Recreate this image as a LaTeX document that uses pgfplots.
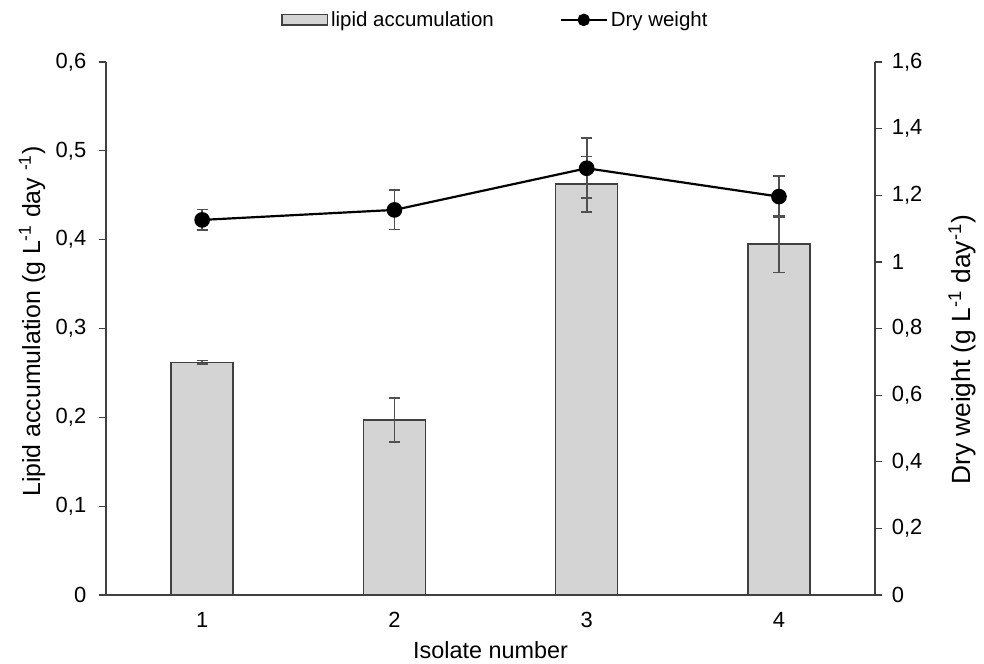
\documentclass[border=0pt]{standalone}
\usepackage{pgfplots}
\pgfplotsset{compat=1.18}
\usepackage{fontspec}
\setmainfont{Liberation Sans}
\definecolor{barfill}{HTML}{D4D4D4}
\definecolor{axgray}{HTML}{404040}
\definecolor{errgray}{HTML}{505050}
\pgfplotsset{
  barlegend/.style={legend image code/.code={\draw[##1] (0pt,-3.5pt) rectangle (31pt,3.5pt);}},
  linelegend/.style={legend image code/.code={\draw[mark repeat=2, mark phase=2, mark size=3.5pt, ##1] plot coordinates {(0pt,0pt) (15.75pt,0pt) (31.5pt,0pt)};}},
}
\begin{document}
\begin{tikzpicture}[font=\fontsize{15}{18}\selectfont]
\pgfplotsset{
  common/.style={
    scale only axis, width=526pt, height=364.6pt,
    xmin=0.5, xmax=4.5,
    /pgf/number format/assume math mode=true,
    /pgf/number format/use comma,
    tick align=outside,
    axis line style={axgray, line width=0.9pt},
    tick style={axgray, line width=0.9pt},
    major tick length=5pt,
  }
}
\begin{axis}[common, name=main,
  axis x line*=bottom, axis y line*=left,
  ymin=0, ymax=0.6, ytick={0,0.1,...,0.6},
  yticklabel style={/pgf/number format/fixed, /pgf/number format/precision=1, xshift=-5pt},
  xtick={1,2,3,4}, xticklabels={1,2,3,4},
  xtick style={draw=none},
  minor xtick={0.5,1.5,2.5,3.5,4.5},
  minor tick length=5pt,
  minor tick style={axgray, line width=0.9pt},
  xticklabel style={yshift=-3pt},
  xlabel={Isolate number},
  xlabel style={font=\fontsize{16}{19}\selectfont, at={(axis description cs:0.5,-0.1031)}, anchor=center},
  ylabel={Lipid accumulation (g L\textsuperscript{-1} day \textsuperscript{-1})},
  ylabel style={font=\fontsize{17}{20}\selectfont, at={(axis description cs:-0.0962,0.513)}, anchor=center},
]
\addplot[ybar, bar width=42.4pt, fill=barfill, draw=axgray, line width=1pt,
  error bars/.cd, y dir=both, y explicit,
  error bar style={errgray, line width=1.2pt},
  error mark options={errgray, line width=1.2pt, mark size=3.8pt, rotate=90}]
  coordinates {
  (1,0.262) +- (0,0.002)
  (2,0.197) +- (0,0.025)
  (3,0.4625) +- (0,0.031)
  (4,0.395) +- (0,0.032)
};
\end{axis}
\begin{axis}[common,
  axis x line=none, axis y line*=right,
  ymin=0, ymax=1.6, ytick={0,0.2,...,1.6},
  yticklabel style={xshift=3pt},
  ylabel={Dry weight (g L\textsuperscript{-1} day\textsuperscript{-1})},
  ylabel style={font=\fontsize{18}{21}\selectfont, at={(axis description cs:1.1131,0.46)}, anchor=center},
  legend style={at={(axis description cs:0.507,1.079)}, anchor=center, draw=none, legend columns=2,
    font=\fontsize{14}{17}\selectfont,
    /tikz/every even column/.append style={column sep=43pt}},
  legend cell align=left,
]
\addlegendimage{fill=barfill, draw=axgray, line width=1pt, barlegend}
\addlegendentry{lipid accumulation}
\addplot[black, line width=1.5pt, mark=*, mark size=4.6pt,
  mark options={solid, fill=black}, linelegend,
  error bars/.cd, y dir=both, y explicit,
  error bar style={errgray, line width=1.2pt},
  error mark options={errgray, line width=1.2pt, mark size=3.8pt, rotate=90}]
  coordinates {
  (1,1.126) +- (0,0.031)
  (2,1.156) +- (0,0.059)
  (3,1.281) +- (0,0.09)
  (4,1.196) +- (0,0.062)
};
\addlegendentry{Dry weight}
\end{axis}
\path (main.south west) ++(-72.5pt,-46.5pt) coordinate (bbA);
\path (main.north east) ++(74.5pt,42.4pt) coordinate (bbB);
\path (bbA) rectangle (bbB);
\end{tikzpicture}
\end{document}
